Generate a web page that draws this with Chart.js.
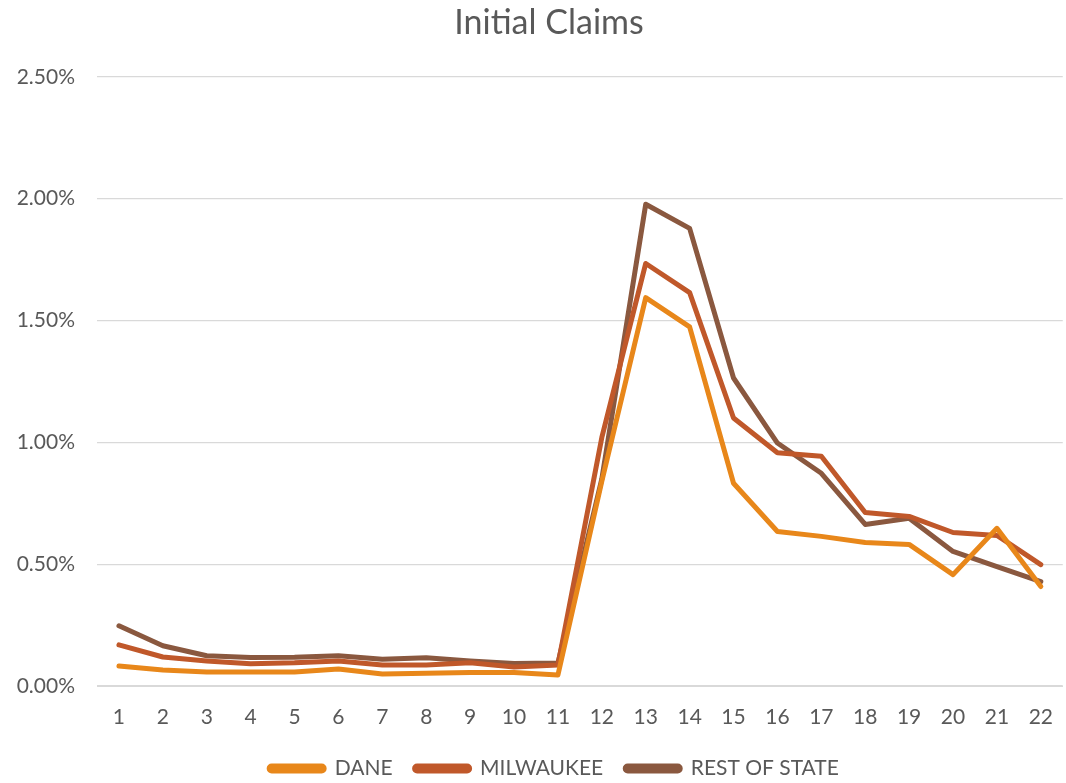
<!DOCTYPE html>
<html>
<head>
<meta charset="utf-8">
<script src="https://cdn.jsdelivr.net/npm/chart.js@4/dist/chart.umd.min.js"></script>
<style>
  html, body { margin: 0; padding: 0; background: #fff; overflow: hidden; }
  #wrap { width: 1066px; height: 783px; overflow: hidden; }
</style>
</head>
<body>
<div id="wrap"><canvas id="claimsChart" width="1072" height="789"></canvas></div>
<script>
// Weeks and weekly initial claims (% of labour force)
const weeks = ['1', '2', '3', '4', '5', '6', '7', '8', '9', '10', '11',
               '12', '13', '14', '15', '16', '17', '18', '19', '20', '21', '22'];
const dane = [0.082, 0.066, 0.057, 0.057, 0.057, 0.070, 0.049, 0.052, 0.055, 0.055, 0.045,
              0.84, 1.594, 1.474, 0.832, 0.634, 0.614, 0.589, 0.581, 0.457, 0.647, 0.408];
const milwaukee = [0.169, 0.119, 0.103, 0.091, 0.095, 0.103, 0.086, 0.086, 0.095, 0.078, 0.086,
                   1.02, 1.734, 1.614, 1.10, 0.957, 0.943, 0.712, 0.696, 0.630, 0.618, 0.498];
const restOfState = [0.247, 0.165, 0.124, 0.117, 0.118, 0.124, 0.110, 0.116, 0.103, 0.092, 0.094,
                     0.85, 1.977, 1.878, 1.264, 0.997, 0.873, 0.663, 0.688, 0.552, 0.490, 0.428];

const textColor = '#595959';
const gridColor = '#d9d9d9';
const fontFamily = 'Lato, "Open Sans", sans-serif';

function makeSeries(label, data, color) {
    return {
        label: label,
        data: data,
        borderColor: color,
        backgroundColor: color,
        borderWidth: 5,
        pointRadius: 0,
        tension: 0,
        borderJoinStyle: 'round',
        borderCapStyle: 'round'
    };
}

// title and legend sit a bit right of the canvas centre in the original
const nudgeBlocks = {
    id: 'nudgeBlocks',
    afterLayout(chart) {
        if (chart.titleBlock) chart.titleBlock.left += 26;
        if (chart.legend) chart.legend.left += 36;
    }
};

new Chart(document.getElementById('claimsChart'), {
    type: 'line',
    data: {
        labels: weeks,
        datasets: [
            makeSeries('DANE', dane, '#e8871a'),
            makeSeries('MILWAUKEE', milwaukee, '#c0582a'),
            makeSeries('REST OF STATE', restOfState, '#8a583f')
        ]
    },
    plugins: [nudgeBlocks],
    options: {
        responsive: false,
        animation: false,
        layout: { padding: 0 },
        plugins: {
            title: {
                display: true,
                text: 'Initial Claims',
                color: textColor,
                font: { family: fontFamily, size: 34, weight: 'normal' },
                padding: { top: 3, bottom: 33 }
            },
            legend: {
                position: 'bottom',
                labels: {
                    color: textColor,
                    font: { family: fontFamily, size: 21 },
                    boxWidth: 55,
                    boxHeight: 5,
                    useBorderRadius: true,
                    borderRadius: 2.5,
                    padding: 22
                }
            },
            tooltip: { enabled: false }
        },
        scales: {
            x: {
                offset: true,
                afterFit: function(axis) { axis.height = 50; },
                grid: { display: false, drawTicks: false },
                border: { color: gridColor, width: 1 },
                ticks: {
                    color: textColor,
                    font: { family: fontFamily, size: 21 },
                    padding: 19,
                    maxRotation: 0
                }
            },
            y: {
                min: 0,
                max: 2.5,
                afterFit: function(axis) { axis.width = 97; },
                grid: { color: gridColor, lineWidth: 1.3, drawTicks: false },
                border: { display: false },
                ticks: {
                    stepSize: 0.5,
                    color: textColor,
                    font: { family: fontFamily, size: 21 },
                    padding: 22,
                    callback: function(v) { return v.toFixed(2) + '%'; }
                }
            }
        }
    }
});
</script>
</body>
</html>
